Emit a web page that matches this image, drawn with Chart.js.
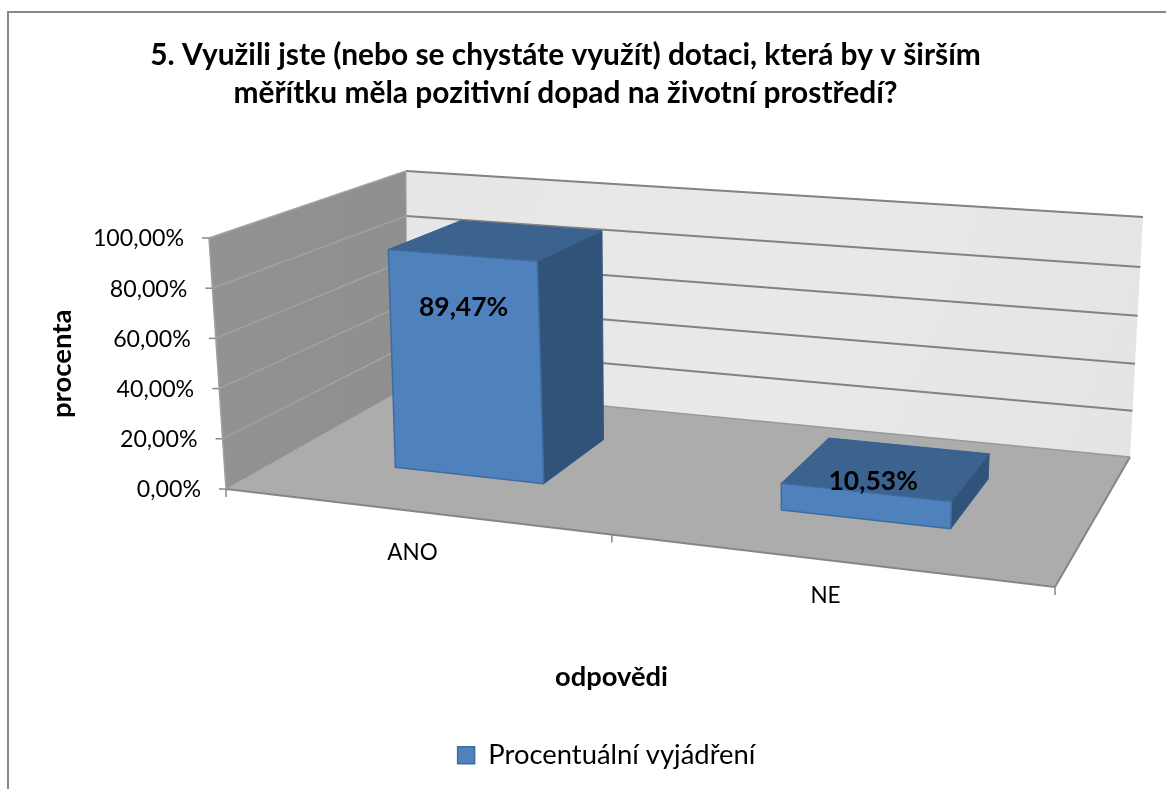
<!DOCTYPE html>
<html>
<head>
<meta charset="utf-8">
<title>Dotace</title>
<script src="https://cdn.jsdelivr.net/npm/chart.js@4"></script>
<style>
    body { margin: 0; background: #fff; }
    canvas { display: block; }
</style>
</head>
<body>
<canvas id="statChart" width="1166" height="789"></canvas>
<script>
const chartTitle = ['5. Využili jste (nebo se chystáte využít) dotaci, která by v širším', 'měřítku měla pozitivní dopad na životní prostředí?'];
const categories = ['ANO', 'NE'];
const seriesName = 'Procentuální vyjádření';
const seriesValues = [89.47, 10.53];
const valueLabels = ['89,47%', '10,53%'];
const yTickLabels = ['0,00%', '20,00%', '40,00%', '60,00%', '80,00%', '100,00%'];
const yAxisTitle = 'procenta';
const xAxisTitle = 'odpovědi';

const FONT = 'Lato, sans-serif';

// corners of the 3D box on screen: floor and top plane
const floorCorners = [[226, 489], [1055, 587], [1130, 457], [407, 387]];
const topCorners = [[209, 238], [1067.5, 308], [1143, 217], [406, 171]];
const barDepth = [0.3, 0.7];
const barShift = 0.004;
const barLean = 4;
const labelOffsets = [[2, 52], [8, -11]];
const categoryLabelDrop = [42, 36];

// unit square -> quad, perspective
function quadMap(q) {
    const [p0, p1, p2, p3] = q;
    const dx1 = p1[0] - p2[0], dx2 = p3[0] - p2[0], sx = p0[0] - p1[0] + p2[0] - p3[0];
    const dy1 = p1[1] - p2[1], dy2 = p3[1] - p2[1], sy = p0[1] - p1[1] + p2[1] - p3[1];
    const den = dx1 * dy2 - dx2 * dy1;
    const g = (sx * dy2 - dx2 * sy) / den;
    const h = (dx1 * sy - sx * dy1) / den;
    const a = p1[0] - p0[0] + g * p1[0], b = p3[0] - p0[0] + h * p3[0];
    const d = p1[1] - p0[1] + g * p1[1], e = p3[1] - p0[1] + h * p3[1];
    return (u, w) => {
        const z = g * u + h * w + 1;
        return [(a * u + b * w + p0[0]) / z, (d * u + e * w + p0[1]) / z];
    };
}

const floorMap = quadMap(floorCorners);
const topMap = quadMap(topCorners);

function project(u, v, w) {
    const f = floorMap(u, w);
    const t = topMap(u, w);
    // heights get slightly squeezed towards the floor at the back
    const vv = v / (1 + 0.05 * w * (1 - v));
    return [f[0] + (t[0] - f[0]) * vv, f[1] + (t[1] - f[1]) * vv];
}

function projectBar(u, v, w) {
    const p = project(u + barShift, v, w);
    return [p[0] + barLean * v, p[1]];
}

function poly(ctx, pts, fill, stroke, lw) {
    ctx.beginPath();
    pts.forEach((p, i) => i ? ctx.lineTo(p[0], p[1]) : ctx.moveTo(p[0], p[1]));
    ctx.closePath();
    if (fill) { ctx.fillStyle = fill; ctx.fill(); }
    if (stroke) { ctx.strokeStyle = stroke; ctx.lineWidth = lw; ctx.stroke(); }
}

function line(ctx, a, b, color, lw) {
    ctx.beginPath();
    ctx.moveTo(a[0], a[1]);
    ctx.lineTo(b[0], b[1]);
    ctx.strokeStyle = color;
    ctx.lineWidth = lw;
    ctx.stroke();
}

// chart pixels -> unit coordinates of the box
function unitX(chart, px) {
    const area = chart.chartArea;
    return (px - area.left) / (area.right - area.left);
}
function unitY(chart, py) {
    const area = chart.chartArea;
    return (area.bottom - py) / (area.bottom - area.top);
}

const box3d = {
    id: 'box3d',
    afterLayout(chart) {
        // title and legend are not centred on the same line in the original
        chart.titleBlock.left += 13;
        chart.titleBlock.right += 13;
        chart.legend.left -= 5;
        chart.legend.right -= 5;
    },
    beforeDraw(chart) {
        const ctx = chart.ctx;
        ctx.save();
        ctx.fillStyle = '#fff';
        ctx.fillRect(0, 0, chart.width, chart.height);
        line(ctx, [7, 12], [1166, 12], '#888', 2);
        line(ctx, [8, 12], [8, 789], '#888', 2);
        ctx.restore();
    },
    beforeDatasetsDraw(chart) {
        const ctx = chart.ctx;
        const yScale = chart.scales.y;
        const xScale = chart.scales.x;
        ctx.save();
        ctx.lineJoin = 'round';

        const wallEdge = '#868686';
        const leftGrad = ctx.createLinearGradient(209, 0, 407, 0);
        leftGrad.addColorStop(0, '#929292');
        leftGrad.addColorStop(1, '#8f8f8f');
        poly(ctx, [project(0, 0, 0), project(0, 0, 1), project(0, 1, 1), project(0, 1, 0)], leftGrad, null);
        const backGrad = ctx.createLinearGradient(407, 171, 1143, 457);
        backGrad.addColorStop(0, '#e6e6e6');
        backGrad.addColorStop(0.5, '#e9e9e9');
        backGrad.addColorStop(1, '#e4e4e4');
        poly(ctx, [project(0, 0, 1), project(1, 0, 1), project(1, 1, 1), project(0, 1, 1)], backGrad, null);
        poly(ctx, [project(0, 0, 0), project(1, 0, 0), project(1, 0, 1), project(0, 0, 1)], '#acacac', null);

        // gridlines from the value scale, running along both walls
        yScale.ticks.forEach((tick, i) => {
            const v = unitY(chart, yScale.getPixelForValue(tick.value));
            if (i > 0) {
                line(ctx, project(0, v, 0), project(0, v, 1), '#a2a2a2', 1.5);
                line(ctx, project(0, v, 1), project(1, v, 1), '#828282', 2);
            }
            const p = project(0, v, 0);
            line(ctx, p, [p[0] - 7, p[1]], wallEdge, 1.5);
            ctx.fillStyle = '#000';
            ctx.font = '23.2px ' + FONT;
            ctx.textAlign = 'right';
            ctx.textBaseline = 'middle';
            ctx.fillText(yTickLabels[i], p[0] - 25, p[1] + 1);
        });

        // box edges
        line(ctx, project(0, 0, 0), project(0, 1, 0), '#a0a0a0', 1.5);
        line(ctx, project(0, 0, 1), project(0, 1, 1), '#a8a8a8', 1);
        line(ctx, project(0, 0, 0), project(1, 0, 0), wallEdge, 2);
        line(ctx, project(1, 0, 0), project(1, 0, 1), wallEdge, 2);
        line(ctx, project(0, 0, 1), project(1, 0, 1), '#999', 1.5);
        line(ctx, project(0, 0, 0), project(0, 0, 1), '#a0a0a0', 1);

        // category ticks between and around the categories
        for (let i = 0; i <= categories.length; i++) {
            const p = project(i / categories.length, 0, 0);
            line(ctx, p, [p[0], p[1] + 8], wallEdge, 1.5);
        }
        xScale.ticks.forEach((tick, i) => {
            const u = unitX(chart, xScale.getPixelForValue(tick.value));
            const p = project(u, 0, 0);
            ctx.fillStyle = '#000';
            ctx.font = '22.5px ' + FONT;
            ctx.textAlign = 'center';
            ctx.textBaseline = 'middle';
            ctx.fillText(categories[i], p[0], p[1] + categoryLabelDrop[i]);
        });
        ctx.restore();
    },
    beforeDatasetDraw(chart, args) {
        const ctx = chart.ctx;
        const meta = args.meta;
        ctx.save();
        ctx.lineJoin = 'round';
        meta.data.forEach((bar, i) => {
            const u0 = unitX(chart, bar.x - bar.width / 2);
            const u1 = unitX(chart, bar.x + bar.width / 2);
            const v = unitY(chart, bar.y);
            const v0 = unitY(chart, bar.base);
            const [w0, w1] = barDepth;
            const edge = '#3f6c9f';
            // right side, top, then the front
            poly(ctx, [projectBar(u1, v0, w0), projectBar(u1, v0, w1), projectBar(u1, v, w1), projectBar(u1, v, w0)], '#325379', '#375c86', 1);
            poly(ctx, [projectBar(u0, v, w0), projectBar(u1, v, w0), projectBar(u1, v, w1), projectBar(u0, v, w1)], '#3c628f', '#3a5f8b', 1);
            poly(ctx, [projectBar(u0, v0, w0), projectBar(u1, v0, w0), projectBar(u1, v, w0), projectBar(u0, v, w0)], '#4f81bd', edge, 1.5);
        });
        ctx.restore();
        return false;
    },
    afterDatasetsDraw(chart) {
        const ctx = chart.ctx;
        const meta = chart.getDatasetMeta(0);
        ctx.save();
        ctx.fillStyle = '#000';
        ctx.font = 'bold 26.5px ' + FONT;
        ctx.textAlign = 'center';
        ctx.textBaseline = 'middle';
        meta.data.forEach((bar, i) => {
            const p = projectBar(unitX(chart, bar.x), unitY(chart, bar.y), barDepth[0]);
            ctx.fillText(valueLabels[i], p[0] + labelOffsets[i][0], p[1] + labelOffsets[i][1]);
        });
        ctx.restore();
    }
};

const statChart = new Chart(document.getElementById('statChart').getContext('2d'), {
    type: 'bar',
    data: {
        labels: categories,
        datasets: [{
            label: seriesName,
            data: seriesValues,
            backgroundColor: '#4f81bd',
            borderColor: '#3f6c9f',
            borderWidth: 1.5,
            barPercentage: 0.4,
            categoryPercentage: 1
        }]
    },
    options: {
        responsive: false,
        animation: false,
        layout: { padding: { left: 46, right: 107, bottom: 10 } },
        plugins: {
            title: {
                display: true,
                text: chartTitle,
                color: '#000',
                font: { family: FONT, size: 29.9, weight: 'bold', lineHeight: 1.27 },
                padding: { top: 36, bottom: 123 }
            },
            legend: {
                position: 'bottom',
                fullSize: false,
                labels: {
                    color: '#000',
                    font: { family: FONT, size: 27.4 },
                    boxWidth: 17,
                    boxHeight: 17
                }
            },
            tooltip: { enabled: false }
        },
        scales: {
            x: {
                afterFit: (scale) => { scale.height = 239; },
                grid: { display: false },
                border: { display: false },
                ticks: { display: false },
                title: { display: true, text: xAxisTitle, color: '#000', font: { family: FONT, size: 27.3, weight: 'bold' }, padding: { top: 0, bottom: 38 } }
            },
            y: {
                min: 0,
                max: 100,
                afterFit: (scale) => { scale.width = 118; },
                grid: { display: false },
                border: { display: false },
                ticks: { display: false, stepSize: 20 },
                title: { display: true, text: yAxisTitle, color: '#000', font: { family: FONT, size: 27.5, weight: 'bold' }, padding: 0 }
            }
        }
    },
    plugins: [box3d]
});
</script>
</body>
</html>
